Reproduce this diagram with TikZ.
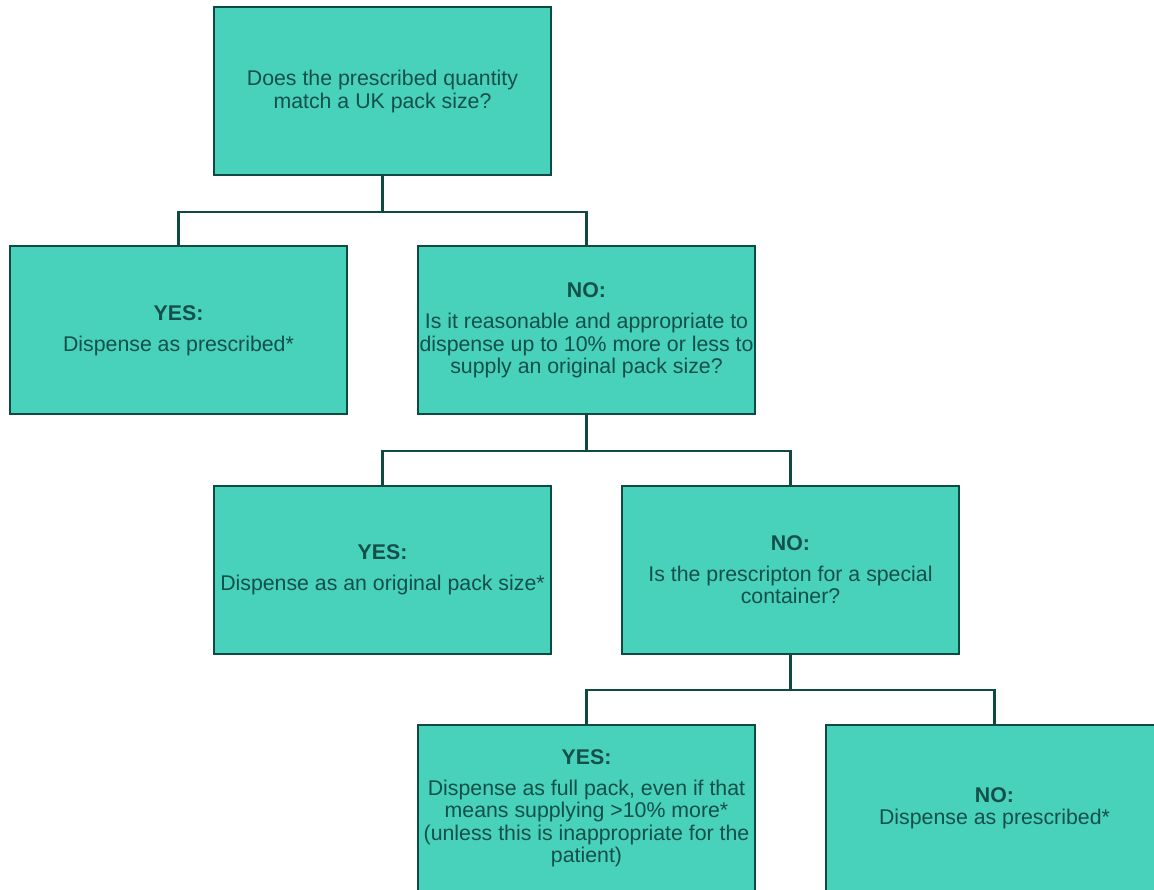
\documentclass[tikz,border=0pt]{standalone}
\usepackage{fontspec}
\setmainfont{Liberation Sans}
\usetikzlibrary{positioning}
\definecolor{boxfill}{HTML}{48D1BB}
\definecolor{boxline}{HTML}{0F4A42}
\definecolor{boxtext}{HTML}{14504A}

\begin{document}
\begin{tikzpicture}[x=1pt,y=1pt,node distance=239pt and 204pt,on grid,
    answer/.style={draw=boxline,fill=boxfill,line width=2pt,minimum width=337pt,
      minimum height=168pt,inner sep=1pt,align=center,text=boxtext,
      font=\fontsize{21.3}{22.5}\selectfont},
    link/.style={draw=boxline,line width=2.5pt}]
            \useasboundingbox (0,0) rectangle (1154,-890);
            \node [answer] (match) at (382.5,-91.5) {Does the prescribed quantity\\match a UK pack size?};
            \node [answer] [below left =of match] (yes_1) {\textbf{YES:}\\[8.5pt]Dispense as prescribed*};
            \node [answer] [below right =of match] (no_1) {\textbf{NO:}\\[8.5pt]Is it reasonable and appropriate to\\dispense up to 10\% more or less to\\supply an original pack size?};
            \node [answer] [below left =of no_1] (yes_2) {\textbf{YES:}\\[8.5pt]Dispense as an original pack size*};
            \node [answer] [below right =of no_1] (no_2) {\textbf{NO:}\\[8.5pt]Is the prescripton for a special\\container?};
            \node [answer] [below left =of no_2] (yes_3) {\textbf{YES:}\\[8.5pt]Dispense as full pack, even if that\\means supplying >10\% more*\\(unless this is inappropriate for the\\patient)};
            \node [answer] [below right =of no_2] (no_3) {\textbf{NO:}\\Dispense as prescribed*};
            \path[link]
            	(match.south) -- ++(0,-35.5) -| (yes_1.north)
            	(match.south) -- ++(0,-35.5) -| (no_1.north)
            	(no_1.south) -- ++(0,-35.5) -| (yes_2.north)
            	(no_1.south) -- ++(0,-35.5) -| (no_2.north)
            	(no_2.south) -- ++(0,-35.5) -| (yes_3.north)
            	(no_2.south) -- ++(0,-35.5) -| (no_3.north);
            \end{tikzpicture}
\end{document}
